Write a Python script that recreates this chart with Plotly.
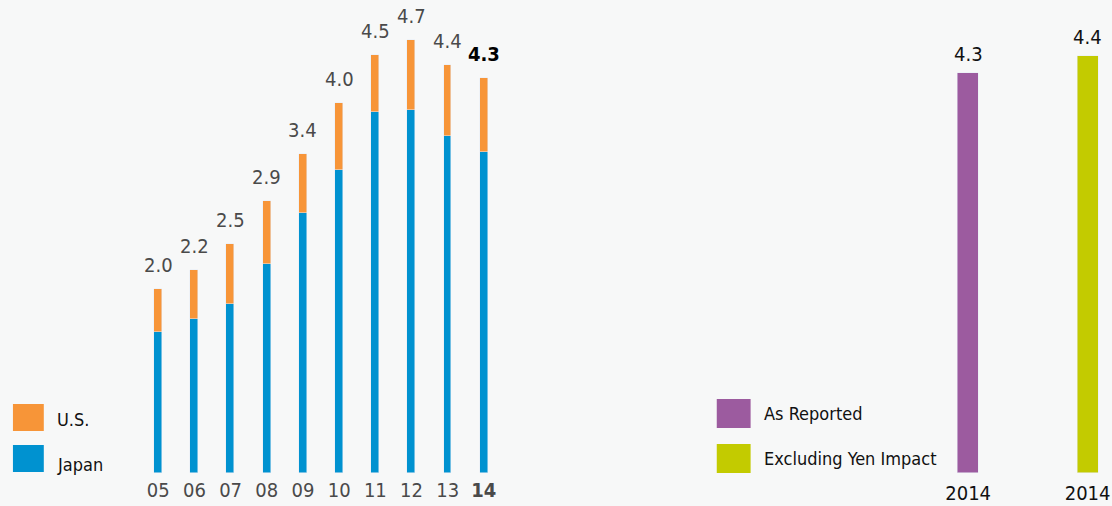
import plotly.graph_objects as go

# ---- data ----
years = ["05", "06", "07", "08", "09", "10", "11", "12", "13", "14"]
japan = [1.53, 1.67, 1.84, 2.27, 2.83, 3.30, 3.93, 3.95, 3.67, 3.49]
us = [0.47, 0.54, 0.65, 0.69, 0.64, 0.73, 0.62, 0.76, 0.77, 0.81]
total_labels = ["2.0", "2.2", "2.5", "2.9", "3.4", "4.0", "4.5", "4.7", "4.4", "4.3"]

cmp_names = ["As Reported", "Excluding Yen Impact"]
cmp_values = [4.35, 4.54]
cmp_labels = ["4.3", "4.4"]
cmp_ticks = ["2014", "2014"]

# ---- style ----
W, H = 1112, 506
FONT = "DejaVu Sans Condensed, Liberation Sans Narrow, sans-serif"
BG = "#f7f8f8"
C_JP = "#0092d0"
C_US = "#f79538"
C_AR = "#9c5b9f"
C_EX = "#c3cb00"
GREY = "#4a4a4a"
DARK = "#111111"

xi = list(range(len(years)))
fig = go.Figure()
fig.add_trace(go.Bar(x=xi, y=japan, marker_color=C_JP, width=0.22, name="Japan",
                     xaxis="x", yaxis="y", hoverinfo="skip"))
fig.add_trace(go.Bar(x=xi, y=us, marker_color=C_US, width=0.22, name="U.S.",
                     xaxis="x", yaxis="y", hoverinfo="skip"))
fig.add_trace(go.Bar(x=[0, 1], y=cmp_values, marker_color=[C_AR, C_EX], width=0.175,
                     xaxis="x2", yaxis="y2", hoverinfo="skip"))

ymax = 472.7 / 91.8
ybot = (H - 472.7) / H

ticktext = [f"<b>{y}</b>" if i == len(years) - 1 else y for i, y in enumerate(years)]

annotations = []
for i, (j, u, lab) in enumerate(zip(japan, us, total_labels)):
    last = i == len(years) - 1
    annotations.append(dict(
        x=i, y=j + u, xref="x", yref="y", text=f"<b>{lab}</b>" if last else lab,
        showarrow=False, yanchor="bottom", yshift=10,
        font=dict(family=FONT, size=20, color="#000000" if last else GREY)))
for i, (v, lab) in enumerate(zip(cmp_values, cmp_labels)):
    annotations.append(dict(
        x=i, y=v, xref="x2", yref="y2", text=lab, showarrow=False,
        yanchor="bottom", yshift=5, font=dict(family=FONT, size=20, color=DARK)))

# legends (swatches + text)
shapes = []
legend_items = [
    (13, 44, 404, 431, C_US, "U.S.", 55, 419),
    (13, 44, 445, 472, C_JP, "Japan", 55, 464),
    (720, 754, 399, 428, C_AR, "As Reported", 765, 413),
    (720, 754, 444, 473, C_EX, "Excluding Yen Impact", 765, 458),
]
for x0, x1, y0, y1, col, txt, tx, ty in legend_items:
    shapes.append(dict(type="rect", xref="paper", yref="paper",
                       x0=x0 / W, x1=x1 / W, y0=1 - y1 / H, y1=1 - y0 / H,
                       fillcolor=col, line=dict(width=0)))
    annotations.append(dict(x=tx / W, y=1 - ty / H, xref="paper", yref="paper",
                            text=txt, showarrow=False, xanchor="left", yanchor="middle",
                            font=dict(family=FONT, size=18, color="#111111")))

fig.update_layout(
    width=W, height=H, margin=dict(l=0, r=0, t=0, b=0),
    paper_bgcolor=BG, plot_bgcolor=BG, barmode="stack", showlegend=False,
    bargap=0,
    xaxis=dict(domain=[140.8 / W, 504.2 / W], range=[-0.5, 9.5], tickvals=xi,
               ticktext=ticktext, showgrid=False, zeroline=False, showline=False,
               ticks="", ticklabelstandoff=3, ticklabeloverflow="allow",
               tickfont=dict(family=FONT, size=20, color=GREY), anchor="y"),
    yaxis=dict(domain=[ybot, 1], range=[0, ymax], visible=False, anchor="x"),
    xaxis2=dict(domain=[912.5 / W, 1110.5 / W], range=[-0.5, 1.15], tickvals=[0, 1],
                ticktext=cmp_ticks, showgrid=False, zeroline=False, showline=False,
                ticks="", ticklabelstandoff=6, ticklabeloverflow="allow",
                tickfont=dict(family=FONT, size=20, color=DARK), anchor="y2"),
    yaxis2=dict(domain=[ybot, 1], range=[0, ymax], visible=False, anchor="x2"),
    annotations=annotations, shapes=shapes,
)

fig.write_html("out.html")
